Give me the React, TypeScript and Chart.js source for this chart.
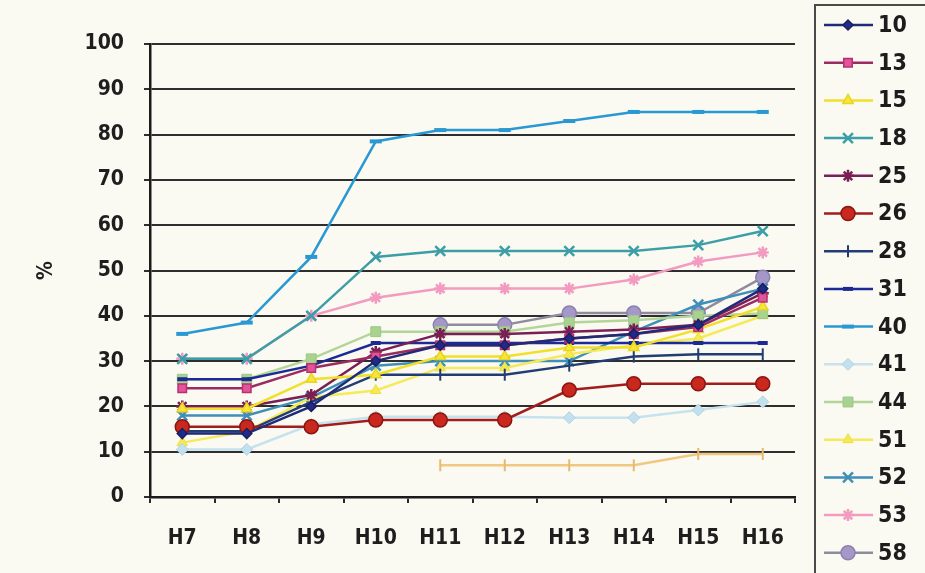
import React, { useEffect, useRef } from 'react';
import { Chart, registerables } from 'chart.js';
import { drawPoint } from 'chart.js/helpers';

Chart.register(...registerables);

// Survey periods along the horizontal axis
const periods = ['H7', 'H8', 'H9', 'H10', 'H11', 'H12', 'H13', 'H14', 'H15', 'H16'];

// Percentages per group (null = no value for that period)
const g10 = [14, 14, 20, 30, 33.5, 33.5, 35, 36, 38, 46];
const g13 = [24, 24, 28.5, 31, 33.5, 33.5, 35, 36, 37.5, 44];
const g15 = [19.5, 19.5, 26, 27, 31, 31, 33, 33, 37, 42];
const g18 = [30.5, 30.5, 40, 53, 54.3, 54.3, 54.3, 54.3, 55.6, 58.7];
const g25 = [20, 20, 22.5, 32, 36, 36, 36.5, 37, 38, 45];
const g26 = [15.5, 15.5, 15.5, 17, 17, 17, 23.6, 25, 25, 25];
const g28 = [14.5, 14.5, 21, 27, 27, 27, 29, 31, 31.5, 31.5];
const g31 = [26, 26, 29, 34, 34, 34, 34, 34, 34, 34];
const g40 = [36, 38.5, 53, 78.5, 81, 81, 83, 85, 85, 85];
const g41 = [10.5, 10.5, 16, 17.7, 17.7, 17.7, 17.5, 17.5, 19.2, 21];
const g44 = [26, 26, 30.5, 36.5, 36.5, 36.5, 38.5, 39, 40, 40.5];
const g51 = [12, 14.5, 22, 23.5, 28.5, 28.5, 31.5, 33.5, 35, 40];
const g52 = [18, 18, 22, 29, 30, 30, 30, 36.5, 42.5, 46];
const g53 = [30.5, 30.5, 40, 44, 46, 46, 46, 48, 52, 54];
const g58 = [null, null, null, null, 38, 38, 40.6, 40.6, 40.6, 48.5];
const gExtra = [null, null, null, null, 7, 7, 7, 7, 9.5, 9.5];

const FONT = "'Liberation Sans Narrow', 'DejaVu Sans Condensed', 'Liberation Sans', Arial, sans-serif";

type Style = {
  line: string;
  fill: string;
  edge: string;
  shape: string;
  rot?: number;
  r: number;
  bw: number;
};

function series(label: string, data: (number | null)[], s: Style) {
  return {
    label,
    data,
    borderColor: s.line,
    borderWidth: 2.5,
    pointStyle: s.shape,
    pointRotation: s.rot ?? 0,
    pointRadius: s.r,
    pointHoverRadius: s.r,
    pointBackgroundColor: s.fill,
    pointBorderColor: s.edge,
    pointBorderWidth: s.bw,
    spanGaps: false,
    tension: 0,
  };
}

// Legend panel on the right: line sample with its marker, then the group number
const sideLegend = {
  id: 'sideLegend',
  afterDraw(chart: any) {
    const ctx: CanvasRenderingContext2D = chart.ctx;
    const boxL = 815;
    const boxT = 5;
    ctx.save();
    ctx.strokeStyle = '#4a4a4a';
    ctx.lineWidth = 2;
    ctx.beginPath();
    ctx.moveTo(boxL, chart.height);
    ctx.lineTo(boxL, boxT);
    ctx.lineTo(chart.width, boxT);
    ctx.stroke();

    let y = 25;
    chart.data.datasets.forEach((ds: any) => {
      if (!ds.label) return;
      ctx.strokeStyle = ds.borderColor;
      ctx.lineWidth = ds.borderWidth;
      ctx.beginPath();
      ctx.moveTo(824, y);
      ctx.lineTo(873, y);
      ctx.stroke();
      ctx.fillStyle = ds.pointBackgroundColor;
      ctx.strokeStyle = ds.pointBorderColor;
      ctx.lineWidth = ds.pointBorderWidth;
      drawPoint(
        ctx,
        {
          pointStyle: ds.pointStyle,
          rotation: ds.pointRotation,
          radius: ds.pointRadius,
          borderWidth: ds.pointBorderWidth,
        } as any,
        848,
        y,
      );
      ctx.fillStyle = '#1c1c1c';
      ctx.font = `bold 23px ${FONT}`;
      ctx.textBaseline = 'middle';
      ctx.textAlign = 'left';
      ctx.fillText(ds.label, 878, y + 1);
      y += 37.7;
    });
    ctx.restore();
  },
};

const paper = {
  id: 'paper',
  beforeDraw(chart: any) {
    const ctx = chart.ctx;
    ctx.save();
    ctx.fillStyle = '#fbfaf2';
    ctx.fillRect(0, 0, chart.width, chart.height);
    ctx.restore();
  },
};

export default function App() {
  const ref = useRef<HTMLCanvasElement>(null);

  useEffect(() => {
    if (!ref.current) return;
    const chart = new Chart(ref.current, {
      type: 'line',
      data: {
        labels: periods,
        datasets: [
          series('10', g10, { line: '#1f2a78', fill: '#1f2a8a', edge: '#1a2060', shape: 'rectRot', r: 5, bw: 1.5 }),
          series('13', g13, { line: '#9b2c62', fill: '#e0559b', edge: '#b8306e', shape: 'rect', r: 6, bw: 1.5 }),
          series('15', g15, { line: '#f2df2a', fill: '#f7e53a', edge: '#e8d520', shape: 'triangle', r: 6, bw: 1.5 }),
          series('18', g18, { line: '#3c9ea6', fill: '#3c9ea6', edge: '#3c9ea6', shape: 'crossRot', r: 7, bw: 2.5 }),
          series('25', g25, { line: '#7a1f55', fill: '#7a1f55', edge: '#7a1f55', shape: 'star', r: 6, bw: 2.5 }),
          series('26', g26, { line: '#a11c1c', fill: '#c8281e', edge: '#8a1410', shape: 'circle', r: 7, bw: 1.5 }),
          series('28', g28, { line: '#213d74', fill: '#213d74', edge: '#213d74', shape: 'line', rot: 90, r: 6, bw: 2 }),
          series('31', g31, { line: '#1c2a96', fill: '#1c2a96', edge: '#1c2a96', shape: 'line', r: 5, bw: 4 }),
          series('40', g40, { line: '#2a98d2', fill: '#2a98d2', edge: '#2a98d2', shape: 'line', r: 6, bw: 4 }),
          series('41', g41, { line: '#c5e2ee', fill: '#c3e0ee', edge: '#b0d4e6', shape: 'rectRot', r: 6, bw: 1 }),
          series('44', g44, { line: '#b2d69a', fill: '#a9d290', edge: '#9cc883', shape: 'rect', r: 7, bw: 1 }),
          series('51', g51, { line: '#f4ea5a', fill: '#f6ea4e', edge: '#eedd40', shape: 'triangle', r: 6, bw: 1 }),
          series('52', g52, { line: '#3f8fb8', fill: '#3f8fb8', edge: '#3f8fb8', shape: 'crossRot', r: 7, bw: 2.5 }),
          series('53', g53, { line: '#f29ac0', fill: '#f29ac0', edge: '#f29ac0', shape: 'star', r: 6, bw: 2.5 }),
          series('58', g58, { line: '#8d8b9c', fill: '#a597c8', edge: '#8c80b0', shape: 'circle', r: 7, bw: 1.5 }),
          series('', gExtra, { line: '#f0c882', fill: '#f0c882', edge: '#e8b870', shape: 'line', rot: 90, r: 6, bw: 2 }),
        ],
      },
      options: {
        animation: false,
        responsive: false,
        events: [],
        layout: { padding: { left: 0, right: 130, top: 44, bottom: 0 } },
        plugins: {
          legend: { display: false },
          tooltip: { enabled: false },
          title: { display: false },
        },
        scales: {
          x: {
            offset: true,
            grid: {
              display: true,
              offset: true,
              drawOnChartArea: false,
              drawTicks: true,
              tickLength: 6,
              color: '#2a2a2a',
              lineWidth: 2,
            },
            border: { display: true, color: '#1a1a1a', width: 2.5 },
            ticks: {
              color: '#1e1e1e',
              font: { family: FONT, size: 21, weight: 'bold' },
              padding: 23,
              maxRotation: 0,
            },
            afterFit(scale: any) {
              scale.height = 76;
            },
          },
          y: {
            min: 0,
            max: 100,
            ticks: {
              stepSize: 10,
              color: '#1e1e1e',
              font: { family: FONT, size: 21, weight: 'bold' },
              padding: 20,
            },
            grid: {
              color: '#2e2e2e',
              lineWidth: 2,
              drawTicks: true,
              tickLength: 6,
            },
            border: { display: true, color: '#1a1a1a', width: 2.5 },
            title: {
              display: true,
              text: '%',
              color: '#1e1e1e',
              font: { family: FONT, size: 21, weight: 'bold' },
              padding: { top: 34, bottom: 0 },
            },
            afterFit(scale: any) {
              scale.width = 150;
            },
          },
        },
      },
      plugins: [paper, sideLegend],
    } as any);
    return () => chart.destroy();
  }, []);

  return (
    <div style={{ position: 'fixed', left: 0, top: 0, width: 925, height: 573, background: '#fbfaf2' }}>
      <canvas ref={ref} width={925} height={573} style={{ display: 'block', width: 925, height: 573 }} />
    </div>
  );
}
